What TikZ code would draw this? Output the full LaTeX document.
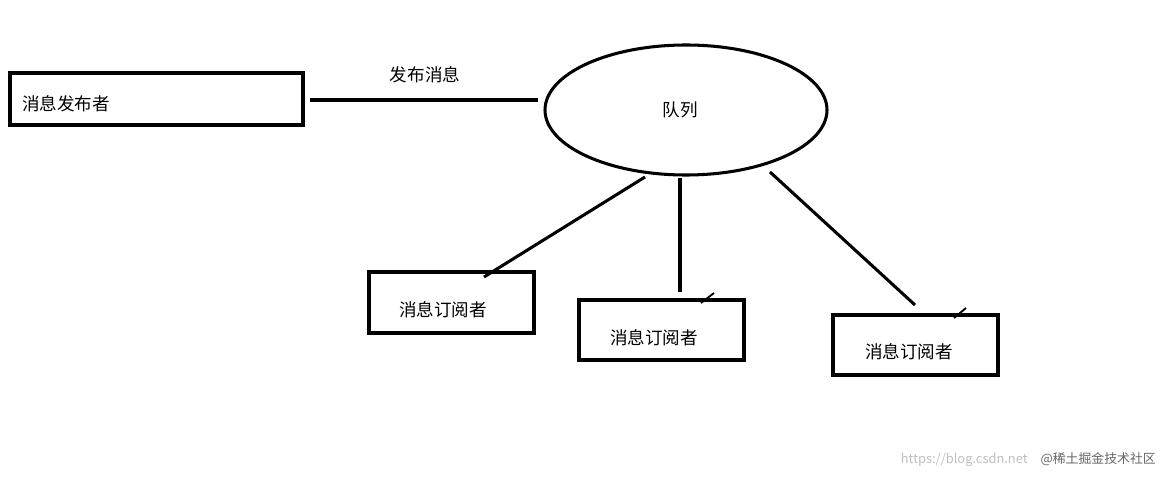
\documentclass[tikz,border=0pt]{standalone}
\usepackage{fontspec}
\setmainfont{Noto Sans CJK SC}
\usetikzlibrary{shapes.geometric}
\begin{document}
\begin{tikzpicture}[x=0.03cm,y=-0.03cm,
  bx/.style={draw,line width=2.6pt,inner sep=0pt},
  ln/.style={line width=2.6pt},
  lbl/.style={font=\fontsize{15pt}{18pt}\selectfont}]
\useasboundingbox (0,0) rectangle (1175,484);
\draw[bx] (10,73) rectangle (303,125);
\node[lbl,anchor=west] (pub) at (18,104) {消息发布者};
\draw[ln] (310,100) coordinate (a1) -- (538,100) coordinate (a2);
\node[lbl] (pl) at (425,75) {发布消息};
\node[draw,ellipse,line width=2.6pt,minimum width=282*0.03cm,minimum height=130*0.03cm] (q) at (686,110) {};
\node[lbl] (qt) at (680,110) {队列};
\draw[bx] (369,272) rectangle (534,333);
\node[lbl] (s1) at (443,310) {消息订阅者};
\draw[bx] (579,300) rectangle (744,360);
\node[lbl] (s2) at (654,338) {消息订阅者};
\draw[bx] (833,315) rectangle (998,375);
\node[lbl] (s3) at (909,352) {消息订阅者};
\draw[ln] (645,177) coordinate (b1) -- (484,277) coordinate (b2);
\draw[ln] (680,178) coordinate (c1) -- (680,292) coordinate (c2);
\draw[ln] (770,172) coordinate (d1) -- (915,305) coordinate (d2);
\draw[line width=1.6pt] (701,303) coordinate (e1) -- (714,293) coordinate (e2);
\draw[line width=1.6pt] (954,318) coordinate (f1) -- (966,308) coordinate (f2);
\node[anchor=east,text=gray!50,font=\fontsize{11pt}{13pt}\selectfont] (wm) at (1160,460) {https://blog.csdn.net\quad\textcolor{gray!80!black}{@稀土掘金技术社区}};
\end{tikzpicture}
\end{document}
